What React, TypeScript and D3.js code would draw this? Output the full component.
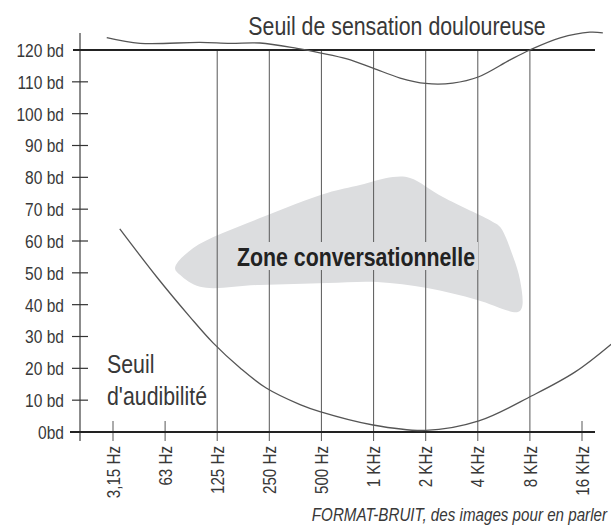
// App.tsx
// audiogram style chart : pain threshold, hearing threshold and speech zone
import * as d3 from 'd3';
import React from 'react';

const frequencies = ["3,15 Hz", "63 Hz", "125 Hz", "250 Hz", "500 Hz", "1 KHz", "2 KHz", "4 KHz", "8 KHz", "16 KHz"];
// true = line goes all the way up to 120 bd, false = small tick only
const fullLines = [false, false, true, true, true, true, true, true, true, false];

const levels = [0, 10, 20, 30, 40, 50, 60, 70, 80, 90, 100, 110, 120];
const levelLabels = ["0bd", "10 bd", "20 bd", "30 bd", "40 bd", "50 bd", "60 bd", "70 bd", "80 bd", "90 bd", "100 bd", "110 bd", "120 bd"];

// [octave index, dB]
const painCurve: [number, number][] = [
    [-0.12, 123.9], [0.52, 122.1], [1.67, 122.4], [2.25, 122.1], [2.82, 122.2],
    [3.53, 120.5], [3.97, 119.1], [4.49, 117.2], [4.99, 114.3], [5.51, 111.2],
    [6.0, 109.5], [6.52, 109.6], [7.02, 111.6], [7.62, 116.9], [8.0, 120.0],
    [8.58, 123.8], [9.15, 125.6], [9.4, 125.4]
];

const hearingCurve: [number, number][] = [
    [0.13, 63.8], [0.84, 48.7], [1.48, 36.1], [1.92, 28.0], [2.44, 20.1],
    [2.94, 13.8], [3.59, 8.6], [3.97, 6.4], [4.99, 2.2], [6.0, 0.5],
    [7.02, 3.5], [8.04, 11.4], [8.87, 18.9], [9.56, 27.6]
];

const speechZone: [number, number][] = [
    [1.19, 51.5], [1.54, 57.8], [2.82, 67.2], [4.11, 75.1], [4.74, 77.6],
    [5.37, 80.1], [5.7, 79.8], [6.33, 73.8], [7.29, 66.0], [7.43, 64.4],
    [7.68, 55.0], [7.81, 47.8], [7.85, 39.3], [7.77, 37.7], [6.99, 41.5],
    [6.03, 45.2], [5.07, 47.1], [4.11, 46.8], [2.82, 46.2], [1.67, 45.6],
    [1.29, 49.3]
];

const width = 611;
const height = 529;
const font = "'Liberation Sans', Arial, sans-serif";
const squeeze = 0.82; // no narrow font installed, so squeeze Liberation Sans like Arial Narrow
const ink = "#383838";

// text squeezed horizontally around its anchor point
function NarrowText({ x, y, rotate = 0, children, ...rest }: any) {
    return (
        <text transform={"translate(" + x + "," + y + ") rotate(" + rotate + ") scale(" + squeeze + ",1)"} {...rest}>
            {children}
        </text>
    );
}

function App() {
    var xBand = d3.scalePoint().domain(frequencies).range([113, 582]);
    var x = d3.scaleLinear().domain([0, frequencies.length - 1]).range([113, 582]);
    var y = d3.scaleLinear().domain([0, 120]).range([432, 50]);

    var curve = d3.line<[number, number]>()
        .x(d => x(d[0]))
        .y(d => y(d[1]))
        .curve(d3.curveCatmullRom);

    var zone = d3.line<[number, number]>()
        .x(d => x(d[0]))
        .y(d => y(d[1]))
        .curve(d3.curveCatmullRomClosed)(speechZone) || "";

    var bottom = 441;

    return (
        <svg width={width} height={height} style={{ position: "absolute", left: 0, top: 0 }} fontFamily={font}>
            <defs>
                <clipPath id="zoneClip"><path d={zone} /></clipPath>
            </defs>

            {/* conversation zone */}
            <path d={zone} fill="#dcdddf" />

            {/* frequency lines */}
            {frequencies.map((f, i) => (
                <line key={f} x1={xBand(f)} x2={xBand(f)}
                    y1={fullLines[i] ? y(120) : 421} y2={bottom}
                    stroke="#666" strokeWidth={1.1} />
            ))}

            {/* knock out the lines behind the zone label */}
            <rect x={234} y={242} width={244} height={28} fill="#dcdddf" clipPath="url(#zoneClip)" />
            <NarrowText x={356} y={266} textAnchor="middle" fontWeight="bold" fontSize={26} fill="#222">Zone conversationnelle</NarrowText>

            {/* y axis */}
            <line x1={80} x2={80} y1={33} y2={bottom} stroke="#666" strokeWidth={1.5} />
            {levels.map((l, i) => (
                <g key={l}>
                    {l > 0 && l < 120 && <line x1={72} x2={88} y1={y(l)} y2={y(l)} stroke="#333" strokeWidth={1.2} />}
                    <NarrowText x={64} y={y(l)} dy="0.36em" textAnchor="end" fontSize={19} fill={ink}>{levelLabels[i]}</NarrowText>
                </g>
            ))}
            <line x1={73} x2={595} y1={y(120)} y2={y(120)} stroke="#222" strokeWidth={2} />
            <line x1={70} x2={595} y1={y(0)} y2={y(0)} stroke="#222" strokeWidth={2} />

            {/* x labels */}
            {frequencies.map(f => (
                <text key={f} transform={"translate(" + xBand(f) + ",446) rotate(-90) scale(" + squeeze + ",1)"}
                    dy="0.36em" textAnchor="end" fontSize={18.5} fill={ink}>{f}</text>
            ))}

            {/* curves */}
            <path d={curve(painCurve) || ""} fill="none" stroke="#555" strokeWidth={1.3} />
            <path d={curve(hearingCurve) || ""} fill="none" stroke="#555" strokeWidth={1.3} />

            <NarrowText x={397} y={35} textAnchor="middle" fontSize={26} fill={ink}>Seuil de sensation douloureuse</NarrowText>
            <NarrowText x={107} y={373} fontSize={26} fill={ink}>Seuil</NarrowText>
            <NarrowText x={107} y={405} fontSize={26} fill={ink}>d'audibilité</NarrowText>

            <NarrowText x={607} y={521} textAnchor="end" fontStyle="italic" fontSize={18.5} fill={ink}>FORMAT-BRUIT, des images pour en parler</NarrowText>
        </svg>
    );
}

export default App;
